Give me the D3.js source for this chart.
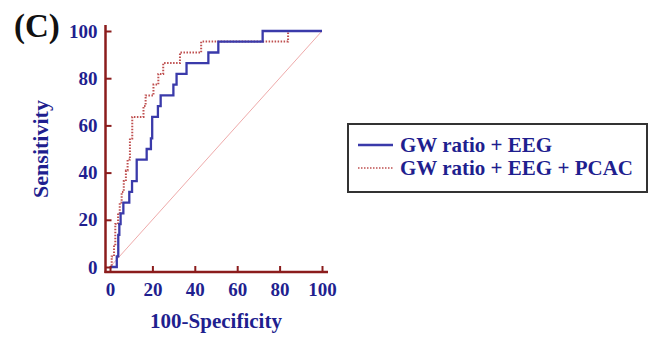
<!DOCTYPE html>
<html>
<head>
<meta charset="utf-8">
<script src="https://cdn.jsdelivr.net/npm/d3@7"></script>
<style>
  body { margin: 0; background: #fff; }
  text { font-family: "Liberation Serif", "Times New Roman", serif; font-weight: bold; }
</style>
</head>
<body>
<svg id="chart" width="659" height="339"></svg>
<script>
// ROC corner points (x = 100-Specificity, y = Sensitivity)
var eegX = [0, 3.2, 3.2, 3.9, 3.9, 4.4, 4.4, 5, 5, 6.3, 6.3, 7.1, 7.1, 9.1, 9.1, 10.4, 10.4, 12.6, 12.6, 17.3, 17.3, 19.3, 19.3, 19.9, 19.9, 22.6, 22.6, 23.9, 23.9, 29.9, 29.9, 31.4, 31.4, 36.1, 36.1, 46.4, 46.4, 51.1, 51.1, 72, 72, 100];
var eegY = [0, 0, 4.5, 4.5, 13.6, 13.6, 18.2, 18.2, 22.7, 22.7, 27.3, 27.3, 27.3, 27.3, 31.8, 31.8, 36.4, 36.4, 45.5, 45.5, 50, 50, 54.5, 54.5, 63.6, 63.6, 68.2, 68.2, 72.7, 72.7, 77.3, 77.3, 81.8, 81.8, 86.4, 86.4, 90.9, 90.9, 95.5, 95.5, 100, 100];

var pcacX = [0, 0.8, 0.8, 1.9, 1.9, 2.5, 2.5, 3.8, 3.8, 4.6, 4.6, 5.5, 5.5, 6.5, 6.5, 7.5, 7.5, 8.3, 8.3, 9.4, 9.4, 10.5, 10.5, 15.8, 15.8, 16.8, 16.8, 20.5, 20.5, 22.8, 22.8, 25.1, 25.1, 33, 33, 43, 43, 84, 84, 100];
var pcacY = [0, 0, 4.5, 4.5, 9.1, 9.1, 18.2, 18.2, 22.7, 22.7, 27.3, 27.3, 31.8, 31.8, 36.4, 36.4, 40.9, 40.9, 45.5, 45.5, 54.5, 54.5, 63.6, 63.6, 68.2, 68.2, 72.7, 72.7, 77.3, 77.3, 81.8, 81.8, 86.4, 86.4, 90.9, 90.9, 95.5, 95.5, 100, 100];

var refX = [0, 100];
var refY = [0, 100];

var majorTicks = [0, 20, 40, 60, 80, 100];
var minorTicks = d3.range(0, 101, 5);
var seriesNames = ["GW ratio + EEG", "GW ratio + EEG + PCAC"];

var axisColor = "#8b1c1c";
var labelColor = "#1f1f8f";
var blue = "#3a3aaa";
var red = "#bf5050";

var svg = d3.select("#chart");

var x = d3.scaleLinear().domain([0, 100]).range([110, 322]);
var y = d3.scaleLinear().domain([0, 100]).range([267, 31]);

var axisY0 = 272, axisX0 = 105.5;

function zipPts(xs, ys) {
    return xs.map(function(d, i) { return [d, ys[i]]; });
}

var line = d3.line()
    .x(function(d) { return x(d[0]); })
    .y(function(d) { return y(d[1]); });

// reference diagonal
svg.append("path")
    .attr("d", line(zipPts(refX, refY)))
    .attr("fill", "none")
    .attr("stroke", "#eeaaaa")
    .attr("stroke-width", 1);

// curves
svg.append("path")
    .attr("d", line(zipPts(pcacX, pcacY)))
    .attr("fill", "none")
    .attr("stroke", red)
    .attr("stroke-width", 2)
    .attr("stroke-dasharray", "1.5,1.5");

svg.append("path")
    .attr("d", line(zipPts(eegX, eegY)))
    .attr("fill", "none")
    .attr("stroke", blue)
    .attr("stroke-width", 2.3);

// x axis
var gx = svg.append("g").attr("transform", "translate(0," + axisY0 + ")");
gx.call(d3.axisBottom(x).tickValues(minorTicks).tickSize(-4).tickFormat(""));
gx.call(d3.axisBottom(x).tickValues(majorTicks).tickSize(-6).tickPadding(11).tickFormat(d3.format("d")));
gx.selectAll(".domain").remove();
gx.selectAll("line").attr("stroke", axisColor).attr("stroke-width", 2);
gx.selectAll("text")
    .attr("fill", labelColor)
    .style("font-size", "19px")
    .style("font-family", "Liberation Serif");
gx.append("line")
    .attr("x1", axisX0 - 1).attr("x2", 328)
    .attr("y1", 0).attr("y2", 0)
    .attr("stroke", axisColor).attr("stroke-width", 2.5);

// y axis
var gy = svg.append("g").attr("transform", "translate(" + axisX0 + ",0)");
gy.call(d3.axisLeft(y).tickValues(minorTicks).tickSize(-4).tickFormat(""));
gy.call(d3.axisLeft(y).tickValues(majorTicks).tickSize(-6).tickPadding(8).tickFormat(d3.format("d")));
gy.selectAll(".domain").remove();
gy.selectAll("line").attr("stroke", axisColor).attr("stroke-width", 2);
gy.selectAll("text")
    .attr("fill", labelColor)
    .style("font-size", "19px")
    .style("font-family", "Liberation Serif");
gy.append("line")
    .attr("x1", 0).attr("x2", 0)
    .attr("y1", 25).attr("y2", axisY0 + 1)
    .attr("stroke", axisColor).attr("stroke-width", 2.5);

// axis titles
svg.append("text")
    .attr("x", 216).attr("y", 328)
    .attr("text-anchor", "middle")
    .attr("fill", labelColor)
    .style("font-size", "21px")
    .text("100-Specificity");

svg.append("text")
    .attr("transform", "translate(48,149) rotate(-90)")
    .attr("text-anchor", "middle")
    .attr("fill", labelColor)
    .style("font-size", "22px")
    .text("Sensitivity");

// panel label
svg.append("text")
    .attr("x", 14).attr("y", 37)
    .attr("fill", "#111")
    .style("font-size", "33px")
    .text("(C)");

// legend
var legend = svg.append("g");
legend.append("rect")
    .attr("x", 348).attr("y", 124)
    .attr("width", 299).attr("height", 68)
    .attr("fill", "#fff")
    .attr("stroke", "#333")
    .attr("stroke-width", 2);

var legendRows = legend.selectAll(".row")
    .data(seriesNames)
    .enter()
    .append("g")
    .attr("class", "row")
    .attr("transform", function(d, i) { return "translate(0," + (145 + i * 23) + ")"; });

legendRows.append("line")
    .attr("x1", 358).attr("x2", 393)
    .attr("y1", 0).attr("y2", 0)
    .attr("stroke", function(d, i) { return i == 0 ? blue : red; })
    .attr("stroke-width", function(d, i) { return i == 0 ? 2.3 : 1.5; })
    .attr("stroke-dasharray", function(d, i) { return i == 0 ? null : "1.5,1.5"; });

legendRows.append("text")
    .attr("x", 400).attr("y", 6.5)
    .attr("fill", labelColor)
    .style("font-size", "21px")
    .text(function(d) { return d; });
</script>
</body>
</html>
